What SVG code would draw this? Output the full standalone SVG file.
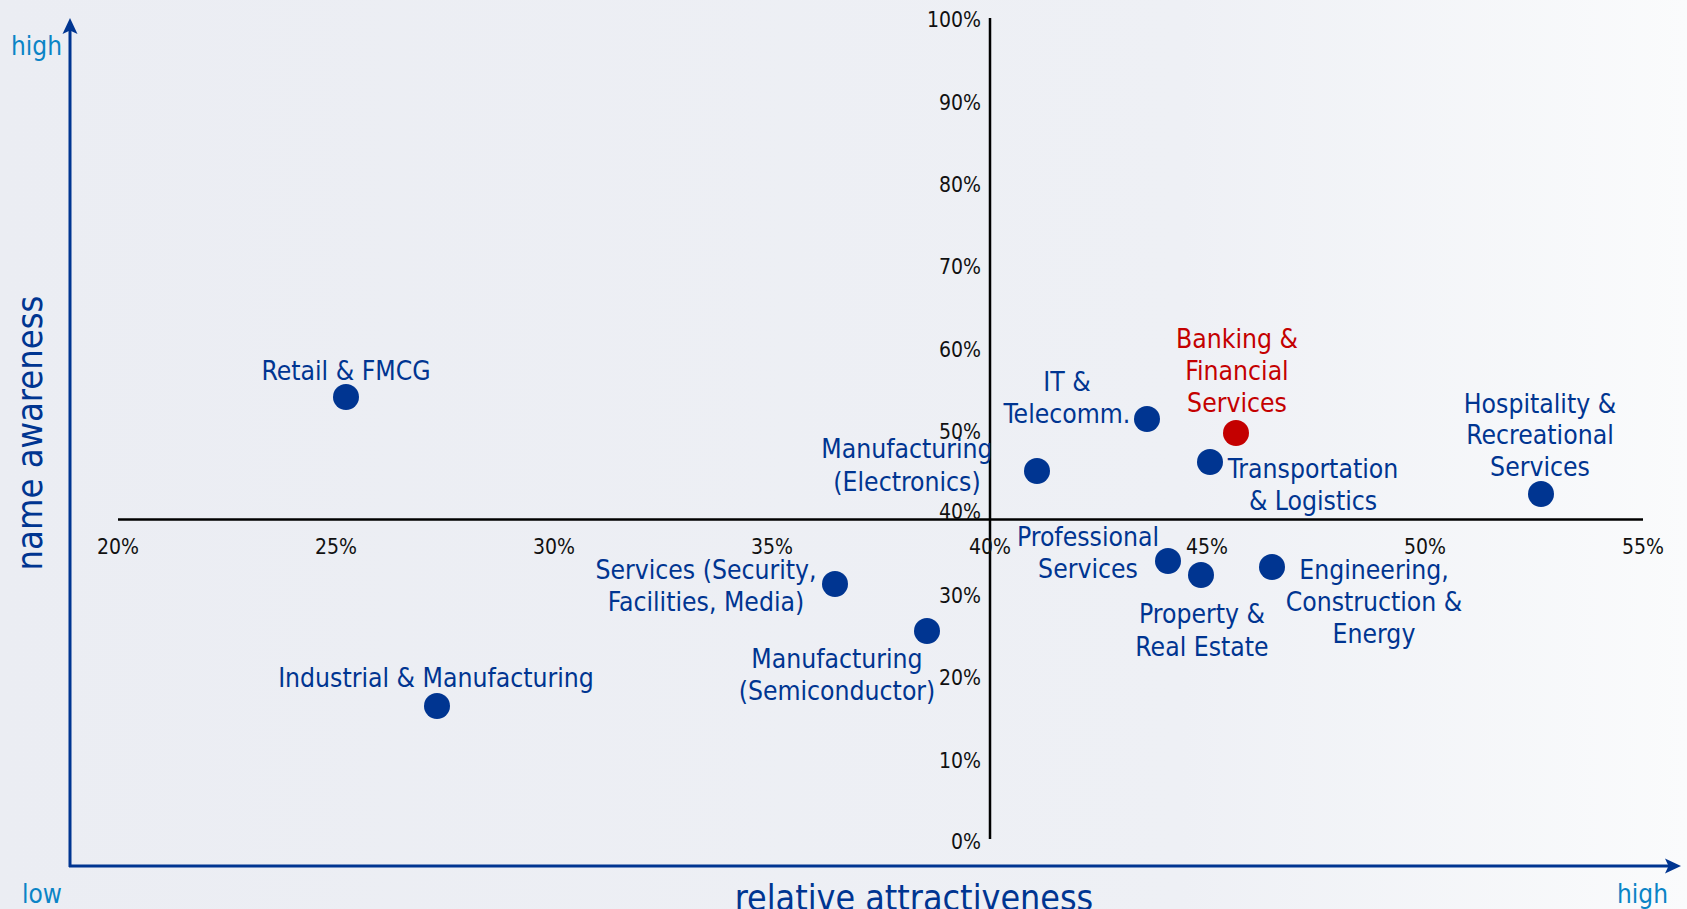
<svg xmlns="http://www.w3.org/2000/svg" width="1687" height="909" viewBox="0 0 1687 909">
<style>
text{font-family:"DejaVu Sans Condensed","DejaVu Sans",sans-serif}
.lbl{font-size:26.3px;fill:#003591;text-anchor:middle}
.red{fill:#c40000}
.dot{fill:#003591}
.dotr{fill:#c40000}
.tk{font-size:21px;fill:#111}
.tx{text-anchor:middle}
.ty{text-anchor:end}
.end{font-size:26px;fill:#0a84c6}
.ax{font-size:35.5px;fill:#003591;text-anchor:middle}
.blue{stroke:#003591;stroke-width:3;fill:none}
.blk{stroke:#000;stroke-width:2.5;fill:none}
</style>
<defs>
<linearGradient id="bg" x1="0" y1="0" x2="1" y2="0">
<stop offset="0" stop-color="#ebedf3"/>
<stop offset="0.7" stop-color="#eef0f5"/>
<stop offset="1" stop-color="#fafbfc"/>
</linearGradient>
</defs>
<rect width="1687" height="909" fill="url(#bg)"/>
<g id="axes">
<path class="blue" d="M70,867 V28"/>
<path d="M70,18 L77.5,34 L70,30.5 L62.5,34 Z" fill="#003591"/>
<path class="blue" d="M69,866 H1671"/>
<path d="M1681,866 L1665,873.5 L1668.5,866 L1665,858.5 Z" fill="#003591"/>
<path class="blk" d="M118,519.5 H1643"/>
<path class="blk" d="M990,18 V839"/>
</g>
<g id="x-ticks" class="tk tx">
<text x="118" y="554">20%</text>
<text x="336" y="554">25%</text>
<text x="554" y="554">30%</text>
<text x="772" y="554">35%</text>
<text x="990" y="554">40%</text>
<text x="1207" y="554">45%</text>
<text x="1425" y="554">50%</text>
<text x="1643" y="554">55%</text>
</g>
<g id="y-ticks" class="tk ty">
<text x="981" y="27">100%</text>
<text x="981" y="109.5">90%</text>
<text x="981" y="192">80%</text>
<text x="981" y="274">70%</text>
<text x="981" y="356.5">60%</text>
<text x="981" y="438.5">50%</text>
<text x="981" y="519">40%</text>
<text x="981" y="603">30%</text>
<text x="981" y="685">20%</text>
<text x="981" y="768">10%</text>
<text x="981" y="849">0%</text>
</g>
<g id="axis-labels">
<text class="end" x="11" y="55">high</text>
<text class="end" x="22" y="903">low</text>
<text class="end" x="1617" y="903">high</text>
<text class="ax" x="914" y="910">relative attractiveness</text>
<text class="ax" style="font-size:36px" transform="translate(42,433) rotate(-90)">name awareness</text>
</g>
<g id="node-retail"><circle class="dot" cx="346" cy="397" r="13"/><text class="lbl" x="346" y="380">Retail &amp; FMCG</text></g>
<g id="node-industrial"><circle class="dot" cx="437" cy="706" r="13"/><text class="lbl" x="436" y="687">Industrial &amp; Manufacturing</text></g>
<g id="node-services"><circle class="dot" cx="835" cy="584" r="13"/><text class="lbl" x="706" y="579">Services (Security,</text><text class="lbl" x="706" y="611">Facilities, Media)</text></g>
<g id="node-semi"><circle class="dot" cx="927" cy="631" r="13"/><text class="lbl" x="837" y="668">Manufacturing</text><text class="lbl" x="837" y="700">(Semiconductor)</text></g>
<g id="node-electronics"><circle class="dot" cx="1037" cy="471" r="13"/><text class="lbl" x="907" y="458">Manufacturing</text><text class="lbl" x="907" y="491">(Electronics)</text></g>
<g id="node-it"><circle class="dot" cx="1147" cy="419" r="13"/><text class="lbl" x="1067" y="391">IT &amp;</text><text class="lbl" x="1067" y="423">Telecomm.</text></g>
<g id="node-banking"><circle class="dotr" cx="1236" cy="433" r="13"/><text class="lbl red" x="1237" y="348">Banking &amp;</text><text class="lbl red" x="1237" y="380">Financial</text><text class="lbl red" x="1237" y="412">Services</text></g>
<g id="node-transport"><circle class="dot" cx="1210" cy="462" r="13"/><text class="lbl" x="1313" y="478">Transportation</text><text class="lbl" x="1313" y="510">&amp; Logistics</text></g>
<g id="node-professional"><circle class="dot" cx="1168" cy="561" r="13"/><text class="lbl" x="1088" y="546">Professional</text><text class="lbl" x="1088" y="578">Services</text></g>
<g id="node-property"><circle class="dot" cx="1201" cy="575" r="13"/><text class="lbl" x="1202" y="623">Property &amp;</text><text class="lbl" x="1202" y="656">Real Estate</text></g>
<g id="node-engineering"><circle class="dot" cx="1272" cy="567" r="13"/><text class="lbl" x="1374" y="579">Engineering,</text><text class="lbl" x="1374" y="611">Construction &amp;</text><text class="lbl" x="1374" y="643">Energy</text></g>
<g id="node-hospitality"><circle class="dot" cx="1541" cy="494" r="13"/><text class="lbl" x="1540" y="413">Hospitality &amp;</text><text class="lbl" x="1540" y="444">Recreational</text><text class="lbl" x="1540" y="476">Services</text></g>
</svg>
